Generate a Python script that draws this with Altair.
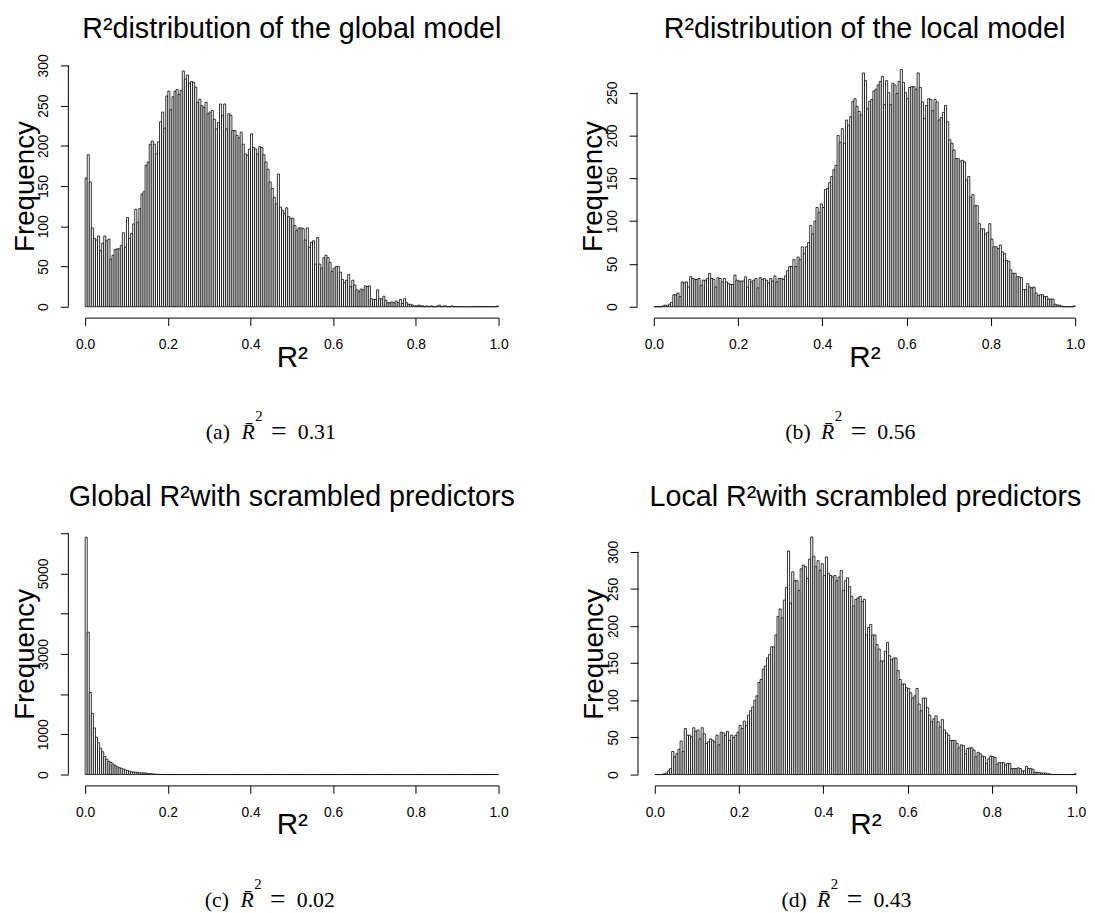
import altair as alt
import pandas as pd
import numpy as np

BIN_WIDTH = 0.005

A_COUNTS = [
    160, 189, 155, 98, 85, 83, 88, 70, 79, 88,
    82, 84, 59, 64, 71, 72, 72, 76, 92, 74,
    111, 85, 91, 103, 121, 105, 122, 140, 143, 176,
    180, 202, 206, 202, 190, 205, 230, 242, 222, 262,
    268, 245, 261, 268, 270, 264, 269, 293, 283, 288,
    278, 280, 279, 273, 254, 258, 250, 248, 254, 240,
    242, 244, 233, 221, 229, 252, 238, 252, 221, 240,
    238, 219, 219, 213, 210, 217, 202, 190, 188, 196,
    215, 198, 196, 190, 199, 198, 189, 180, 171, 155,
    147, 136, 128, 165, 124, 120, 116, 123, 112, 110,
    110, 101, 95, 98, 98, 97, 83, 98, 74, 80,
    82, 53, 86, 53, 48, 61, 64, 61, 55, 44,
    48, 50, 50, 43, 34, 30, 33, 40, 25, 33,
    27, 21, 19, 22, 21, 26, 25, 26, 10, 9,
    9, 21, 10, 10, 13, 8, 5, 5, 6, 5,
    7, 5, 9, 4, 10, 5, 3, 3, 2, 1,
    1, 2, 1, 1, 0, 1, 0, 1, 0, 0,
    1, 2, 0, 1, 1, 0, 0, 1, 0, 0,
    0, 0, 0, 0, 0, 0, 0, 0, 0, 0,
    0, 0, 0, 0, 0, 0, 0, 0, 0, 1,
]

B_COUNTS = [
    0, 0, 0, 0, 1, 2, 1, 3, 5, 14,
    14, 16, 12, 29, 28, 29, 23, 35, 33, 32,
    32, 33, 25, 31, 31, 33, 39, 33, 32, 23,
    34, 33, 29, 33, 29, 27, 26, 26, 37, 31,
    30, 30, 30, 35, 23, 32, 29, 31, 33, 22,
    34, 32, 33, 31, 28, 33, 30, 36, 29, 33,
    33, 32, 36, 42, 47, 47, 55, 47, 58, 55,
    70, 62, 70, 75, 95, 85, 100, 116, 110, 120,
    116, 137, 138, 145, 152, 160, 165, 200, 192, 208,
    191, 218, 212, 222, 240, 243, 234, 228, 224, 273,
    264, 231, 240, 242, 252, 254, 259, 263, 269, 236,
    264, 250, 236, 261, 259, 249, 263, 277, 262, 250,
    243, 256, 257, 257, 254, 273, 256, 239, 220, 235,
    243, 242, 229, 242, 239, 218, 221, 227, 235, 216,
    195, 191, 183, 173, 173, 170, 171, 169, 148, 152,
    128, 131, 118, 118, 97, 91, 91, 85, 87, 97,
    79, 70, 70, 68, 72, 64, 62, 54, 53, 43,
    39, 39, 35, 35, 34, 20, 20, 27, 23, 22,
    23, 16, 13, 14, 14, 12, 12, 9, 9, 9,
    3, 2, 2, 1, 0, 0, 0, 0, 0, 1,
]

C_COUNTS = [
    5900, 3540, 2040, 1520, 1160, 930, 790, 655, 565, 450,
    380, 330, 300, 262, 225, 195, 170, 160, 135, 115,
    100, 82, 68, 62, 57, 55, 45, 40, 42, 35,
    24, 22, 18, 12, 8, 5, 3, 2, 1, 0,
    0, 0, 0, 0, 0, 0, 0, 0, 0, 0,
    0, 0, 0, 0, 0, 0, 0, 0, 0, 0,
    0, 0, 0, 0, 0, 0, 0, 0, 0, 0,
    0, 0, 0, 0, 0, 0, 0, 0, 0, 0,
    0, 0, 0, 0, 0, 0, 0, 0, 0, 0,
    0, 0, 0, 0, 0, 0, 0, 0, 0, 0,
    0, 0, 0, 0, 0, 0, 0, 0, 0, 0,
    0, 0, 0, 0, 0, 0, 0, 0, 0, 0,
    0, 0, 0, 0, 0, 0, 0, 0, 0, 0,
    0, 0, 0, 0, 0, 0, 0, 0, 0, 0,
    0, 0, 0, 0, 0, 0, 0, 0, 0, 0,
    0, 0, 0, 0, 0, 0, 0, 0, 0, 0,
    0, 0, 0, 0, 0, 0, 0, 0, 0, 0,
    0, 0, 0, 0, 0, 0, 0, 0, 0, 0,
    0, 0, 0, 0, 0, 0, 0, 0, 0, 0,
    0, 0, 0, 0, 0, 0, 0, 0, 0, 0,
]

D_COUNTS = [
    0, 0, 0, 0, 1, 2, 5, 8, 31, 24,
    28, 34, 45, 31, 62, 53, 53, 51, 63, 58,
    60, 48, 63, 55, 42, 44, 48, 46, 44, 53,
    40, 57, 56, 53, 58, 46, 53, 50, 53, 57,
    66, 62, 72, 66, 80, 86, 91, 100, 106, 124,
    128, 142, 146, 157, 162, 172, 172, 188, 213, 223,
    211, 235, 252, 301, 231, 273, 261, 261, 248, 277,
    282, 280, 264, 290, 320, 294, 280, 288, 275, 284,
    268, 293, 271, 268, 266, 268, 261, 266, 275, 248,
    261, 265, 253, 240, 227, 236, 238, 240, 233, 236,
    188, 198, 202, 188, 188, 175, 169, 153, 153, 166,
    178, 160, 155, 157, 157, 140, 128, 122, 122, 117,
    116, 110, 103, 106, 116, 95, 86, 103, 103, 90,
    80, 71, 75, 79, 71, 64, 74, 60, 56, 53,
    46, 46, 46, 42, 36, 40, 39, 28, 35, 36,
    36, 33, 24, 30, 28, 25, 24, 15, 21, 25,
    24, 23, 14, 16, 16, 16, 13, 15, 15, 8,
    8, 8, 9, 8, 5, 5, 11, 8, 8, 7,
    3, 3, 3, 2, 2, 2, 1, 1, 0, 0,
    0, 0, 0, 0, 0, 0, 0, 0, 0, 1,
]

X_TICKS = [0.0, 0.2, 0.4, 0.6, 0.8, 1.0]
A_YTICKS = [0, 50, 100, 150, 200, 250, 300]
B_YTICKS = [0, 50, 100, 150, 200, 250]
C_YTICKS = [0, 1000, 2000, 3000, 4000, 5000, 6000]
C_YLABELS = [0, 1000, 3000, 5000]
D_YTICKS = [0, 50, 100, 150, 200, 250, 300]

TITLES = [
    "R²distribution of the global model",
    "R²distribution of the local model",
    "Global R²with scrambled predictors",
    "Local R²with scrambled predictors",
]
TAGS = ["(a)", "(b)", "(c)", "(d)"]
MEANS = ["0.31", "0.56", "0.02", "0.43"]

SANS = "Liberation Sans"
SERIF = "Liberation Serif"
H = 244


def text_layer(txt, x, y, size, font=SANS, style="normal", align="center"):
    return alt.Chart(pd.DataFrame({"t": [txt]})).mark_text(
        font=font, fontSize=size, fontStyle=style, align=align,
        baseline="alphabetic", color="black"
    ).encode(x=alt.value(x), y=alt.value(y), text="t:N")


def panel(counts, yticks, ylabels, ymax, width, title, tag, mean, cap_x):
    idx = np.arange(len(counts))
    df = pd.DataFrame({"lo": idx * BIN_WIDTH, "hi": (idx + 1) * BIN_WIDTH, "count": counts})
    label_expr = "indexof([%s], datum.value) >= 0 ? datum.label : ''" % ",".join(
        str(v) for v in ylabels)
    bars = alt.Chart(df).mark_rect(fill="white", stroke="black", strokeWidth=0.8).encode(
        x=alt.X("lo:Q", scale=alt.Scale(domain=[0, 1], nice=False, zero=False),
                axis=alt.Axis(values=X_TICKS, format=".1f", title="R²", offset=11,
                              tickSize=8, tickColor="black", tickWidth=1,
                              domainColor="black", domainWidth=1,
                              labelFont=SANS, labelFontSize=14, labelColor="black",
                              labelPadding=12, labelFlush=False, labelOverlap=False,
                              grid=False, titleFont=SANS, titleFontSize=30,
                              titleFontWeight="normal", titleColor="black",
                              titleY=49, titleBaseline="alphabetic")),
        x2="hi:Q",
        y=alt.Y("count:Q", scale=alt.Scale(domain=[0, ymax], nice=False),
                axis=alt.Axis(values=yticks, labelExpr=label_expr, format="d",
                              title="Frequency",
                              offset=17, domain=False, tickSize=8, tickColor="black",
                              tickWidth=1, labelAngle=270, labelAlign="center",
                              labelBaseline="middle", labelPadding=17,
                              labelFont=SANS, labelFontSize=14, labelColor="black",
                              labelOverlap=False, grid=False,
                              titleFont=SANS, titleFontSize=28, titleFontWeight="normal",
                              titleColor="black", titleAngle=270, titleX=-35.5,
                              titleY=H / 2, titleBaseline="alphabetic",
                              titleAlign="center")),
        y2=alt.datum(0),
    )
    yline = alt.Chart(pd.DataFrame({"k": [0]})).mark_rule(color="black", strokeWidth=1).encode(
        x=alt.value(-17), y=alt.datum(yticks[0]), y2=alt.datum(yticks[-1]))
    cap_y = H + 134
    layers = [
        bars, yline,
        text_layer(title, width / 2, -28, 29),
        text_layer(tag, cap_x, cap_y, 22, font=SERIF, align="left"),
        text_layer("R\u0304", cap_x + 36, cap_y, 22, font=SERIF, style="italic", align="left"),
        text_layer("2", cap_x + 50, cap_y - 18, 15, font=SERIF, align="left"),
        text_layer("=", cap_x + 66, cap_y + 1, 28, font=SERIF, align="left"),
        text_layer(mean, cap_x + 93, cap_y, 22, font=SERIF, align="left"),
    ]
    return alt.layer(*layers).properties(width=width, height=H)


pa = panel(A_COUNTS, A_YTICKS, A_YTICKS, 300, 418, TITLES[0], TAGS[0], MEANS[0], 122)
pb = panel(B_COUNTS, B_YTICKS, B_YTICKS, 281.8, 426, TITLES[1], TAGS[1], MEANS[1], 133)
pc = panel(C_COUNTS, C_YTICKS, C_YLABELS, 6000, 418, TITLES[2], TAGS[2], MEANS[2], 121)
pd_ = panel(D_COUNTS, D_YTICKS, D_YTICKS, 325, 426, TITLES[3], TAGS[3], MEANS[3], 128)

chart = alt.vconcat(
    alt.hconcat(pa, pb, spacing=71),
    alt.hconcat(pc, pd_, spacing=65),
    spacing=35,
).properties(padding={"left": 3, "top": 1, "right": 0, "bottom": 0}).configure_view(
    stroke="transparent")

chart.save("out.html", embed_options={"renderer": "svg", "actions": False})
